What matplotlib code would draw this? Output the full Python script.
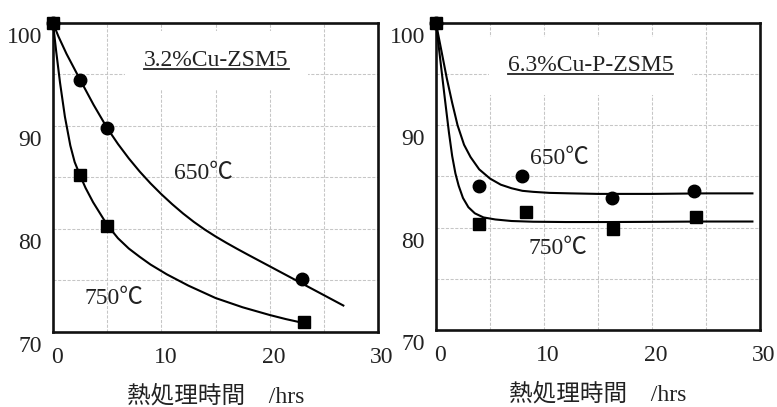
import matplotlib.pyplot as plt
from matplotlib.transforms import ScaledTranslation
from matplotlib.lines import Line2D

plt.rcParams['font.family'] = ['Liberation Serif', 'Noto Sans CJK JP', 'DejaVu Sans']

# 3.2%Cu-ZSM5 measured points
left_650_x = [0, 2.5, 5, 23]
left_650_y = [100, 94.5, 89.8, 75.1]
left_750_x = [0, 2.5, 5, 23.2]
left_750_y = [100, 85.2, 80.3, 71.0]

# 3.2%Cu-ZSM5 fitted curves
left_650_cx = [0, 0.5, 1.25, 2.5, 3.75, 5, 6, 7, 8, 9, 10, 11, 12, 13, 14, 15, 16, 17, 18, 20, 23, 26.8]
left_650_cy = [100, 98.7, 97.0, 94.5, 92.05, 89.8, 88.25, 86.85, 85.58, 84.43, 83.38, 82.41, 81.51,
               80.69, 79.95, 79.28, 78.66, 78.07, 77.5, 76.38, 74.7, 72.57]
left_750_cx = [0, 0.3, 0.65, 1.1, 1.6, 2.0, 2.5, 3.0, 3.7, 5.0, 6.0, 7.0, 8.0, 9.0, 10.5, 12.5, 15.0, 17.5, 20.0, 21.5, 23.0]
left_750_cy = [100, 97.2, 94.2, 90.9, 88.1, 86.5, 85.2, 84.0, 82.6, 80.4, 79.1, 78.1, 77.3, 76.55, 75.6, 74.5, 73.3, 72.4, 71.65, 71.25, 70.9]

# 6.3%Cu-P-ZSM5 measured points
right_650_x = [0, 4, 8, 16.3, 23.9]
right_650_y = [100, 84.1, 85.0, 82.9, 83.6]
right_750_x = [0, 4, 8.3, 16.4, 24.1]
right_750_y = [100, 80.4, 81.5, 79.9, 81.0]

# 6.3%Cu-P-ZSM5 fitted curves
right_650_cx = [0, 0.5, 1.0, 1.5, 2.0, 2.6, 3.2, 4.0, 5.0, 6.0, 7.0, 8.0, 9.0, 10.5, 12.5, 15, 20, 25, 29.3]
right_650_cy = [100, 97.3, 94.6, 92.2, 90.0, 88.1, 86.9, 85.7, 84.8, 84.2, 83.85, 83.6, 83.5, 83.4, 83.35, 83.3, 83.3, 83.35, 83.35]
right_750_cx = [0, 0.4, 0.8, 1.2, 1.5, 1.8, 2.1, 2.5, 3.0, 3.6, 4.4, 5.5, 7, 9, 12, 16, 20, 25, 29.3]
right_750_cy = [100, 96.4, 92.8, 89.3, 87.0, 85.3, 84.1, 82.9, 82.0, 81.4, 81.0, 80.8, 80.65, 80.58, 80.55, 80.55, 80.57, 80.6, 80.6]

x_ticks = [0, 10, 20, 30]
y_ticks = [70, 80, 90, 100]
xlabel = "熱処理時間　/hrs"

fig = plt.figure(figsize=(7.77, 4.07), dpi=100)
ax1 = fig.add_axes([0.0682, 0.1843, 0.4183, 0.7592])
ax2 = fig.add_axes([0.5611, 0.1892, 0.4170, 0.7543])


def setup_axes(ax):
    ax.set_xlim(0, 30)
    ax.set_ylim(70, 100)
    ax.set_xticks(x_ticks)
    ax.set_yticks(y_ticks)
    ax.set_xticks(range(0, 31, 5), minor=True)
    ax.set_yticks(range(70, 101, 5), minor=True)
    ax.grid(which='both', color='#c6c6c6', linestyle=(0, (3, 1.5)), linewidth=0.75)
    ax.set_axisbelow(True)
    ax.tick_params(which='both', length=0, labelsize=17, colors='#222222')
    ax.tick_params(axis='x', pad=11)
    ax.tick_params(axis='y', pad=8)
    for s in ax.spines.values():
        s.set_linewidth(1.9)
        s.set_color('#111111')
    # labels in the source sit a bit below / right of their grid lines
    for t in ax.yaxis.get_major_ticks():
        t.label1.set_transform(t.label1.get_transform() + ScaledTranslation(0, -0.12, fig.dpi_scale_trans))
    for t in ax.xaxis.get_major_ticks():
        t.label1.set_transform(t.label1.get_transform() + ScaledTranslation(0.04, 0, fig.dpi_scale_trans))
    ax.set_xlabel(xlabel, fontsize=17, labelpad=12, color='#222222')


def draw_panel(ax, cx650, cy650, cx750, cy750, x650, y650, x750, y750):
    ax.plot(cx650, cy650, color='black', linewidth=1.5, zorder=3)
    ax.plot(cx750, cy750, color='black', linewidth=1.5, zorder=3)
    ax.plot(x650, y650, 'o', color='black', markersize=9, zorder=4, clip_on=False)
    ax.plot(x750, y750, 's', color='black', markersize=9, zorder=5, clip_on=False)


setup_axes(ax1)
setup_axes(ax2)
draw_panel(ax1, left_650_cx, left_650_cy, left_750_cx, left_750_cy,
           left_650_x, left_650_y, left_750_x, left_750_y)
draw_panel(ax2, right_650_cx, right_650_cy, right_750_cx, right_750_cy,
           right_650_x, right_650_y, right_750_x, right_750_y)

box = dict(boxstyle='square,pad=0.8', facecolor='white', edgecolor='none')
t1 = ax1.text(15.1, 96.4, "3.2%Cu-ZSM5", fontsize=17, ha='center', va='center',
              bbox=box, zorder=2, color='#222222')
t2 = ax2.text(14.3, 95.8, "6.3%Cu-P-ZSM5", fontsize=17, ha='center', va='center',
              bbox=box, zorder=2, color='#222222')

ax1.text(13.9, 85.4, "650℃", fontsize=17, ha='center', va='center', color='#222222', zorder=6)
ax1.text(5.6, 73.3, "750℃", fontsize=17, ha='center', va='center', color='#222222', zorder=6)
ax2.text(11.4, 86.8, "650℃", fontsize=17, ha='center', va='center', color='#222222', zorder=6)
ax2.text(11.3, 78.0, "750℃", fontsize=17, ha='center', va='center', color='#222222', zorder=6)

# underline the panel titles
fig.canvas.draw()
r = fig.canvas.get_renderer()
for t in (t1, t2):
    bb = t.get_window_extent(r)
    y = bb.y0 + 2
    fig.add_artist(Line2D([bb.x0, bb.x1], [y, y], transform=None,
                          color='#222222', linewidth=1.3))

fig.savefig("out.png", dpi=100)
